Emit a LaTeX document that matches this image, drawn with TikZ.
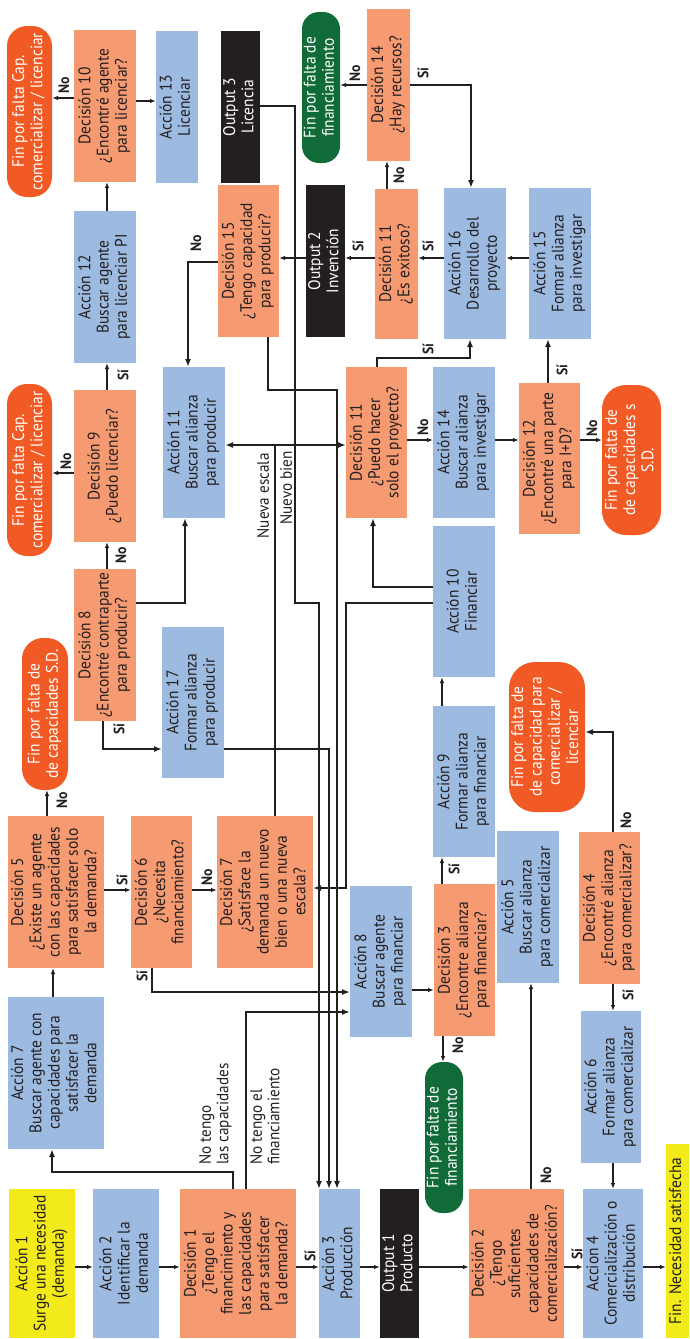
\documentclass[tikz,border=0pt]{standalone}
\usepackage{fontspec}
\setmainfont{PT Sans}[FakeStretch=0.92]
\usepackage{graphicx}
\usetikzlibrary{arrows.meta}
\definecolor{cDec}{HTML}{F69A72}
\definecolor{cAct}{HTML}{9DBBE1}
\definecolor{cYel}{HTML}{F2EA1A}
\definecolor{cFin}{HTML}{F15A24}
\definecolor{cGrn}{HTML}{116B39}
\definecolor{ink}{HTML}{231F20}
\newcommand\rt[1]{\rotatebox{90}{\begin{tabular}{@{}c@{}}#1\end{tabular}}}
\newcommand\rtl[1]{\rotatebox{90}{\begin{tabular}{@{}l@{}}#1\end{tabular}}}
\newcommand\mkbox[7]{\node[#1, minimum width={(#4-#3)*1pt}, minimum height={(#6-#5)*1pt}] (#2) at ({(#3+#4)/2},{-(#5+#6)/2}) {\rt{#7}};}
\tikzset{
 bx/.style={inner sep=0pt, outer sep=0pt, font=\fontsize{16.8}{18.3}\selectfont, text=ink},
 decb/.style={bx, fill=cDec},
 actb/.style={bx, fill=cAct},
 yelb/.style={bx, fill=cYel},
 outb/.style={bx, fill=ink, text=white},
 finb/.style={bx, fill=cFin, text=white, rounded corners=#1},
 finb/.default=18pt,
 grnb/.style={bx, fill=cGrn, text=white, rounded corners=17pt},
 la/.style={draw=ink, line width=1.9pt, -{Latex[length=8pt,width=6pt]}},
 sa/.style={draw=ink, line width=1.2pt, -{Latex[length=6pt,width=4.5pt]}},
 ln/.style={draw=ink, line width=1.9pt},
 lab/.style={inner sep=0pt, font=\fontsize{15}{16}\selectfont\bfseries, text=ink},
 txt/.style={inner sep=0pt, font=\fontsize{16.5}{17.5}\selectfont, text=ink},
}
\begin{document}
\begin{tikzpicture}[x=1pt,y=1pt]
\useasboundingbox (0,0) rectangle (689,-1339);
% ---- boxes ----
\mkbox{finb=20pt}{fin1}{7}{52}{26}{197}{Fin por falta Cap.\\comercializar / licenciar}
\mkbox{decb}{d10}{74}{136}{30}{182}{Decisión 10\\¿Encontré agente\\para licenciar?}
\mkbox{actb}{a13}{156}{198}{31}{183}{Acción 13\\Licenciar}
\mkbox{outb}{o3}{221}{260}{31}{183}{Output 3\\Licencia}
\mkbox{grnb}{finG1}{302}{340}{12}{163}{Fin por falta de\\financiamiento}
\mkbox{decb}{d14}{367}{410}{9}{161}{Decisión 14\\¿Hay recursos?}
\mkbox{actb}{a12}{74}{136}{211}{363}{Acción 12\\Buscar agente\\para licenciar PI}
\mkbox{decb}{d15}{218}{279}{185}{337}{Decisión 15\\¿Tengo capacidad\\para producir?}
\mkbox{outb}{o2}{306}{345}{185}{337}{Output 2\\Invención}
\mkbox{decb}{d11b}{375}{418}{189}{339}{Decisión 11\\¿Es exitoso?}
\mkbox{actb}{a16}{444}{506}{188}{339}{Acción 16\\Desarrollo del\\proyecto}
\mkbox{actb}{a15}{529}{591}{188}{339}{Acción 15\\Formar alianza\\para investigar}
\mkbox{finb=20pt}{fin2}{7}{52}{384}{556}{Fin por falta Cap.\\comercializar / licenciar}
\mkbox{decb}{d9}{74}{136}{390}{542}{Decisión 9\\¿Puedo licenciar?}
\mkbox{actb}{a11}{163}{225}{367}{518}{Acción 11\\Buscar alianza\\para producir}
\mkbox{decb}{d11}{346}{407}{367}{518}{Decisión 11\\¿Puedo hacer\\solo el proyecto?}
\mkbox{actb}{a14}{433}{495}{367}{518}{Acción 14\\Buscar alianza\\para investigar}
\mkbox{decb}{d12}{519}{580}{383}{534}{Decisión 12\\¿Encontré una parte\\para I+D?}
\mkbox{finb=24pt}{fin4}{602}{661}{385}{535}{Fin por falta de\\de capacidades s\\S.D.}
\mkbox{actb}{a10}{433}{495}{526}{677}{Acción 10\\Financiar}
\mkbox{decb}{d8}{74}{136}{569}{721}{Decisión 8\\¿Encontré contraparte\\para producir?}
\mkbox{finb=21pt}{fin3}{22}{68}{638}{790}{Fin por falta de\\de capacidades S.D.}
\mkbox{actb}{a17}{162}{224}{627}{778}{Acción 17\\Formar alianza\\para producir}
\mkbox{actb}{a9}{433}{495}{706}{857}{Acción 9\\Formar alianza\\para financiar}
\mkbox{finb=26pt}{fin5}{509}{585}{662}{812}{Fin por falta de\\de capacidad para\\comercializar /\\licenciar}
\mkbox{decb}{d5}{8}{104}{816}{968}{Decisión 5\\¿Existe un agente\\con las capacidades\\para satisfacer solo\\la demanda?}
\mkbox{decb}{d6}{131}{192}{816}{968}{Decisión 6\\¿Necesita\\financiamiento?}
\mkbox{decb}{d7}{217}{313}{816}{968}{Decisión 7\\¿Satisface la\\demanda un nuevo\\bien o una nueva\\escala?}
\mkbox{actb}{a5}{497}{559}{831}{983}{Acción 5\\Buscar alianza\\para comercializar}
\mkbox{decb}{d4}{579}{640}{832}{984}{Decisión 4\\¿Encontré alianza\\para comercializar?}
\mkbox{actb}{a8}{350}{412}{886}{1037}{Acción 8\\Buscar agente\\para financiar}
\mkbox{decb}{d3}{434}{495}{884}{1036}{Decisión 3\\¿Encontre alianza\\para financiar?}
\mkbox{actb}{a7}{8}{104}{997}{1149}{Acción 7\\Buscar agente con\\capacidades para\\satisfacer la\\demanda}
\mkbox{actb}{a6}{581}{641}{1011}{1163}{Acción 6\\Formar alianza\\para comercializar}
\mkbox{grnb}{finG2}{425}{463}{1062}{1213}{Fin por falta de\\financiamiento}
\mkbox{yelb}{finY}{666}{689}{1144}{1338}{Fin. Necesidad satisfecha}
\mkbox{yelb}{a1}{9}{75}{1189}{1338}{Acción 1\\Surge una necesidad\\(demanda)}
\mkbox{actb}{a2}{93}{159}{1189}{1338}{Acción 2\\Identificar la\\demanda}
\mkbox{decb}{d1}{180}{296}{1189}{1338}{Decisión 1\\¿Tengo el\\financimiento y\\las capacidades\\para satisfacer\\la demanda?}
\mkbox{actb}{a3}{319}{360}{1189}{1338}{Acción 3\\Producción}
\mkbox{outb}{o1}{380}{419}{1189}{1338}{Output 1\\Producto}
\mkbox{decb}{d2}{469}{564}{1189}{1338}{Decisión 2\\¿Tengo\\suficientes\\capacidades de\\comercialización?}
\mkbox{actb}{a4}{583}{643}{1189}{1338}{Accion 4\\Comercialización o\\distribución}
% ---- connectors ----
\draw[sa] (d10.west |- 0,-98) -- (fin1.east |- 0,-98);
\draw[sa] (d10.east |- 0,-101) -- (a13.west |- 0,-101);
\draw[sa] (a12.north -| 107,0) -- (d10.south -| 107,0);
\draw[la] (o3.east |- 0,-106) -- (295,-106) -- (295,-603) -- (319,-603) -- (a3.north -| 319,0);
\draw[la] (d15.west |- 0,-262) -- (188,-262) -- (a11.north -| 188,0);
\draw[sa] (o2.west |- 0,-258) -- (d15.east |- 0,-258);
\draw[sa] (d14.west |- 0,-85) -- (finG1.east |- 0,-85);
\draw[la] (d14.east |- 0,-85) -- (471,-85) -- (a16.north -| 471,0);
\draw[sa] (d11b.north -| 387,0) -- (d14.south -| 387,0);
\draw[sa] (a16.west |- 0,-258) -- (d11b.east |- 0,-258);
\draw[sa] (d11b.west |- 0,-258) -- (o2.east |- 0,-258);
\draw[sa] (a15.west |- 0,-258) -- (a16.east |- 0,-258);
\draw[sa] (d9.north -| 107,0) -- (a12.south -| 107,0);
\draw[sa] (d9.west |- 0,-473) -- (fin2.east |- 0,-473);
\draw[sa] (d8.north -| 107,0) -- (d9.south -| 107,0);
\draw[la] (d8.east |- 0,-603) -- (185,-603) -- (a11.south -| 185,0);
\coordinate (split) at (275,-445);
\draw[ln] (d7.north -| split) -- (split);
\draw[la] (split) -- (a11.east |- split);
\draw[la] (split) -- (d11.west |- split);
\draw[la] (d15.south -| 268,0) -- (268,-390) -- (337,-390) -- (a3.north -| 337,0);
\draw[la] (a10.west |- 0,-587) -- (373,-587) -- (d11.south -| 373,0);
\draw[la] (a10.west |- 0,-603) -- (346,-603) -- (346,-888) -- (d7.east |- 0,-888);
\draw[sa] (d11.east |- 0,-440) -- (a14.west |- 0,-440);
\draw[sa] (a14.east |- 0,-440) -- (d12.west |- 0,-440);
\draw[sa] (d12.east |- 0,-440) -- (fin4.west |- 0,-440);
\draw[la] (d12.north -| 548,0) -- (a15.south -| 548,0);
\draw[la] (d11.north -| 377,0) -- (377,-358) -- (470,-358) -- (a16.south -| 470,0);
\draw[la] (a17.east |- 0,-749) -- (329,-749) -- (a3.north -| 329,0);
\draw[la] (d8.south -| 103,0) -- (103,-749) -- (a17.west |- 0,-749);
\draw[sa] (d5.north -| 47,0) -- (fin3.south -| 47,0);
\draw[sa] (d5.east |- 0,-890) -- (d6.west |- 0,-890);
\draw[sa] (d6.east |- 0,-890) -- (d7.west |- 0,-890);
\draw[la] (d6.south -| 152,0) -- (152,-992) -- (a8.west |- 0,-992);
\draw[la] (d1.north -| 246,0) -- (246,-1012) -- (a8.west |- 0,-1012);
\draw[la] (d1.north -| 233,0) -- (233,-1172) -- (52,-1172) -- (a7.south -| 52,0);
\draw[sa] (a7.north -| 53,0) -- (d5.south -| 53,0);
\draw[sa] (a1.east |- 0,-1267) -- (a2.west |- 0,-1267);
\draw[sa] (a2.east |- 0,-1267) -- (d1.west |- 0,-1267);
\draw[sa] (d1.east |- 0,-1267) -- (a3.west |- 0,-1267);
\draw[sa] (a3.east |- 0,-1267) -- (o1.west |- 0,-1267);
\draw[sa] (o1.east |- 0,-1267) -- (d2.west |- 0,-1267);
\draw[sa] (d2.east |- 0,-1267) -- (a4.west |- 0,-1267);
\draw[sa] (a4.east |- 0,-1267) -- (finY.west |- 0,-1267);
\draw[sa] (a8.east |- 0,-990) -- (d3.west |- 0,-990);
\draw[sa] (d3.north -| 442,0) -- (a9.south -| 442,0);
\draw[sa] (a9.north -| 442,0) -- (a10.south -| 442,0);
\draw[sa] (d3.south -| 443,0) -- (finG2.north -| 443,0);
\draw[sa] (d2.north -| 531,0) -- (a5.south -| 531,0);
\draw[la] (d4.north -| 613,0) -- (613,-732) -- (fin5.east |- 0,-732);
\draw[sa] (d4.south -| 613,0) -- (a6.north -| 613,0);
\draw[sa] (a6.south -| 613,0) -- (a4.north -| 613,0);
% ---- labels ----
\node[lab] (l1) at (64,-85) {\rotatebox{90}{No}};
\node[lab] (l2) at (355,-73) {\rotatebox{90}{No}};
\node[lab] (l3) at (423,-73) {\rotatebox{90}{Sí}};
\node[lab] (l4) at (399,-175) {\rotatebox{90}{No}};
\node[lab] (l5) at (428,-246) {\rotatebox{90}{Sí}};
\node[lab] (l6) at (358,-246) {\rotatebox{90}{Sí}};
\node[lab] (l7) at (196,-243) {\rotatebox{90}{No}};
\node[lab] (l8) at (123,-375) {\rotatebox{90}{Sí}};
\node[lab] (l9) at (66,-461) {\rotatebox{90}{No}};
\node[lab] (l10) at (121,-555) {\rotatebox{90}{No}};
\node[lab] (l11) at (119,-729) {\rotatebox{90}{Sí}};
\node[lab] (l12) at (62,-800) {\rotatebox{90}{No}};
\node[lab] (l13) at (122,-880) {\rotatebox{90}{Sí}};
\node[lab] (l14) at (207,-877) {\rotatebox{90}{No}};
\node[lab] (l15) at (142,-976) {\rotatebox{90}{Sí}};
\node[lab] (l16) at (423,-427) {\rotatebox{90}{No}};
\node[lab] (l17) at (592,-428) {\rotatebox{90}{No}};
\node[lab] (l18) at (562,-370) {\rotatebox{90}{Sí}};
\node[lab] (l19) at (428,-349) {\rotatebox{90}{Sí}};
\node[lab] (l20) at (454,-869) {\rotatebox{90}{Sí}};
\node[lab] (l21) at (626,-820) {\rotatebox{90}{No}};
\node[lab] (l22) at (628,-995) {\rotatebox{90}{Sí}};
\node[lab] (l23) at (458,-1045) {\rotatebox{90}{No}};
\node[lab] (l24) at (546,-1175) {\rotatebox{90}{No}};
\node[lab] (l25) at (310,-1256) {\rotatebox{90}{Sí}};
\node[lab] (l26) at (577,-1254) {\rotatebox{90}{Sí}};
\node[txt, anchor=south] (nl1) at (216,-1165) {\rtl{No tengo\\las capacidades}};
\node[txt, anchor=south] (nl2) at (267,-1165) {\rtl{No tengo el\\financiamiento}};
\node[txt, anchor=north] (nl3) at (263,-453) {\rotatebox{90}{Nueva escala}};
\node[txt, anchor=north] (nl4) at (286,-451) {\rotatebox{90}{Nuevo bien}};
\end{tikzpicture}
\end{document}
